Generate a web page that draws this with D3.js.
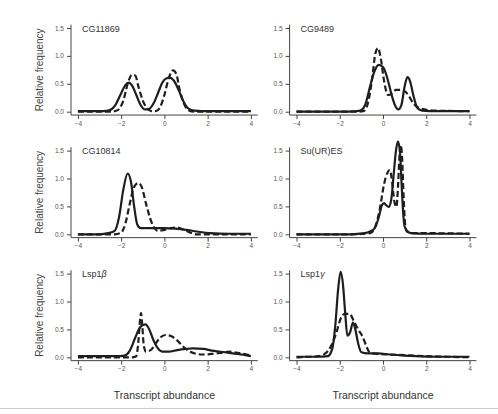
<!DOCTYPE html>
<html>
<head>
<meta charset="utf-8">
<script src="https://cdn.jsdelivr.net/npm/d3@7"></script>
<style>
  body { margin: 0; background: #fff; }
  svg { display: block; font-family: "Liberation Sans", Arial, sans-serif; }
</style>
</head>
<body>
<div class="chart"></div>
<script>
// panel names, in reading order
var genes = ["CG11869", "CG9489", "CG10814", "Su(UR)ES", "Lsp1\u03B2", "Lsp1\u03B3"];

var xTicks = [-4, -2, 0, 2, 4];
var yTicks = [0, 0.5, 1, 1.5];
var yTickLabels = ["0.0", "0.5", "1.0", "1.5"];

// solid curves [x, relative frequency]
var solidCG11869 = [[-4,0.01],[-3,0.01],[-2.6,0.02],[-2.3,0.1],[-2.0,0.33],[-1.8,0.48],[-1.65,0.52],[-1.5,0.47],[-1.3,0.3],[-1.1,0.12],[-0.9,0.04],[-0.7,0.05],[-0.5,0.15],[-0.3,0.33],[-0.1,0.52],[0.1,0.6],[0.25,0.61],[0.45,0.55],[0.7,0.35],[0.9,0.17],[1.1,0.06],[1.4,0.02],[2,0.01],[3,0.01],[4,0.01]];
var dashCG11869 = [[-4,0],[-2.5,0],[-2.2,0.02],[-1.9,0.2],[-1.7,0.5],[-1.5,0.66],[-1.35,0.65],[-1.2,0.45],[-1.0,0.2],[-0.8,0.06],[-0.6,0.01],[-0.4,0.01],[-0.2,0.08],[0,0.3],[0.2,0.6],[0.4,0.74],[0.55,0.68],[0.7,0.4],[0.9,0.15],[1.1,0.03],[1.4,0],[4,0]];

var solidCG9489 = [[-4,0],[-2,0],[-1.2,0.01],[-1.0,0.03],[-0.8,0.15],[-0.6,0.45],[-0.4,0.72],[-0.2,0.84],[0,0.8],[0.2,0.6],[0.4,0.3],[0.55,0.12],[0.7,0.04],[0.85,0.12],[1.0,0.45],[1.13,0.62],[1.25,0.55],[1.4,0.3],[1.6,0.06],[1.8,0.02],[2.5,0.01],[4,0.01]];
var dashCG9489 = [[-4,0],[-1.2,0],[-0.9,0.01],[-0.7,0.15],[-0.5,0.6],[-0.35,1.05],[-0.23,1.14],[-0.1,0.95],[0.05,0.55],[0.23,0.3],[0.4,0.32],[0.6,0.39],[0.85,0.39],[1.0,0.37],[1.2,0.28],[1.4,0.15],[1.6,0.08],[1.95,0.04],[2.3,0.02],[4,0.01]];

var solidCG10814 = [[-4,0],[-3,0],[-2.6,0.02],[-2.3,0.06],[-2.1,0.3],[-1.9,0.8],[-1.7,1.09],[-1.55,0.95],[-1.4,0.5],[-1.25,0.17],[-1.1,0.11],[-0.6,0.11],[0,0.11],[0.5,0.1],[1.0,0.08],[1.5,0.05],[2.1,0.02],[3,0.01],[4,0.01]];
var dashCG10814 = [[-4,0],[-2.3,0],[-2.0,0.03],[-1.8,0.2],[-1.6,0.55],[-1.4,0.85],[-1.2,0.92],[-1.05,0.85],[-0.85,0.55],[-0.6,0.22],[-0.3,0.06],[0,0.08],[0.3,0.11],[0.6,0.12],[0.9,0.08],[1.2,0.03],[1.5,0],[4,0]];

var solidSuURES = [[-4,0],[-1.5,0],[-0.85,0.02],[-0.6,0.05],[-0.38,0.11],[-0.2,0.3],[-0.05,0.52],[0.05,0.56],[0.15,0.52],[0.26,0.49],[0.38,0.62],[0.5,1.1],[0.6,1.5],[0.69,1.66],[0.78,1.5],[0.86,0.9],[0.93,0.4],[1.0,0.14],[1.15,0.05],[1.3,0.02],[2,0.01],[4,0.01]];
var dashSuURES = [[-4,0],[-1.5,0],[-0.8,0.01],[-0.55,0.03],[-0.35,0.15],[-0.15,0.45],[0.05,0.9],[0.2,1.1],[0.31,1.15],[0.42,0.95],[0.52,0.6],[0.62,0.49],[0.7,0.9],[0.77,1.45],[0.82,1.6],[0.88,1.4],[0.95,0.7],[1.02,0.2],[1.1,0.05],[1.4,0.02],[2,0.02],[4,0.01]];

var solidLsp1b = [[-4,0.02],[-3,0.02],[-2.2,0.02],[-1.85,0.03],[-1.6,0.12],[-1.35,0.35],[-1.1,0.55],[-0.88,0.59],[-0.7,0.5],[-0.5,0.3],[-0.3,0.16],[-0.08,0.1],[0.2,0.1],[0.6,0.13],[1.0,0.15],[1.31,0.16],[1.8,0.15],[2.2,0.12],[2.8,0.09],[3.4,0.06],[4,0.02]];
var dashLsp1b = [[-4,0],[-1.5,0],[-1.3,0.02],[-1.2,0.3],[-1.12,0.7],[-1.08,0.79],[-1.02,0.55],[-0.95,0.2],[-0.85,0.1],[-0.6,0.14],[-0.4,0.25],[-0.2,0.35],[0.05,0.4],[0.3,0.38],[0.6,0.3],[0.9,0.18],[1.2,0.1],[1.5,0.06],[1.77,0.05],[2.2,0.06],[2.6,0.08],[3.0,0.1],[3.4,0.08],[3.8,0.05],[4,0.03]];

var solidLsp1g = [[-4,0.01],[-3,0.01],[-2.55,0.02],[-2.35,0.15],[-2.2,0.6],[-2.08,1.2],[-1.96,1.53],[-1.85,1.3],[-1.75,0.8],[-1.65,0.39],[-1.52,0.45],[-1.39,0.62],[-1.28,0.5],[-1.15,0.25],[-1.0,0.09],[-0.7,0.07],[-0.23,0.07],[0.3,0.05],[1.0,0.03],[1.5,0.02],[2.5,0.01],[4,0.01]];
var dashLsp1g = [[-4,0],[-3.4,0.01],[-3.0,0.02],[-2.7,0.06],[-2.39,0.21],[-2.15,0.45],[-1.95,0.7],[-1.77,0.78],[-1.55,0.78],[-1.35,0.65],[-1.15,0.5],[-0.93,0.36],[-0.75,0.18],[-0.6,0.08],[-0.3,0.06],[0.3,0.05],[1.0,0.04],[2.0,0.02],[3.0,0.01],[4,0]];

var solidSeries = [solidCG11869, solidCG9489, solidCG10814, solidSuURES, solidLsp1b, solidLsp1g];
var dashSeries = [dashCG11869, dashCG9489, dashCG10814, dashSuURES, dashLsp1b, dashLsp1g];

var width = 498, height = 414;

var svg = d3.select(".chart")
    .append("svg")
    .attr("width", width)
    .attr("height", height);

// pixel layout of the 3x2 panels
var colLeft = [71, 289.6];
var plotW = 186.8;
var rowZero = [111.7, 234.3, 357.3];
var unitH = 55.8;

var ink = "#1e1e1e";
var axisCol = "#444";

genes.forEach(function(name, i) {
    var col = i % 2, row = Math.floor(i / 2);

    var x = d3.scaleLinear()
        .domain([-4.32, 4.32])
        .range([colLeft[col], colLeft[col] + plotW]);

    var y = d3.scaleLinear()
        .domain([-0.06, 1.56])
        .range([rowZero[row] + 0.06 * unitH, rowZero[row] - 1.56 * unitH]);

    var g = svg.append("g").attr("class", "panel");

    // L shaped frame
    g.append("path")
        .attr("d", "M" + x(-4.32) + "," + y(1.56) + "V" + y(-0.06) + "H" + x(4.32))
        .attr("fill", "none")
        .attr("stroke", axisCol)
        .attr("stroke-width", 1);

    var xAxis = d3.axisBottom(x).tickValues(xTicks).tickSize(4).tickPadding(2)
        .tickFormat(d3.format("d"));
    var yAxis = d3.axisLeft(y).tickValues(yTicks).tickSize(4).tickPadding(3)
        .tickFormat(function(d, k) { return yTickLabels[k]; });

    var xa = g.append("g")
        .attr("transform", "translate(0," + y(-0.06) + ")")
        .call(xAxis);
    var ya = g.append("g")
        .attr("transform", "translate(" + x(-4.32) + ",0)")
        .call(yAxis);

    [xa, ya].forEach(function(a) {
        a.select(".domain").remove();
        a.selectAll("line").attr("stroke", axisCol);
        a.selectAll("text")
            .attr("fill", "#555")
            .style("font-size", "6.5px")
            .style("font-family", "'Liberation Sans', Arial, sans-serif");
    });

    var line = d3.line()
        .x(function(d) { return x(d[0]); })
        .y(function(d) { return y(d[1]); })
        .curve(d3.curveMonotoneX);

    g.append("path")
        .datum(dashSeries[i])
        .attr("d", line)
        .attr("fill", "none")
        .attr("stroke", ink)
        .attr("stroke-width", 2.2)
        .attr("stroke-dasharray", "6,3");

    g.append("path")
        .datum(solidSeries[i])
        .attr("d", line)
        .attr("fill", "none")
        .attr("stroke", ink)
        .attr("stroke-width", 2.2);

    // gene name, greek letters in italic
    var t = g.append("text")
        .attr("x", x(-4.32) + 11)
        .attr("y", y(1.5) + 3.5)
        .attr("fill", "#333")
        .style("font-size", "9px");
    var m = name.match(/^(.*?)([\u03B1-\u03C9])$/);
    if (m) {
        t.append("tspan").text(m[1]);
        t.append("tspan").style("font-style", "italic").text(m[2]);
    } else {
        t.text(name);
    }

    if (col == 0) {
        svg.append("text")
            .attr("transform", "translate(39," + ((y(1.56) + y(-0.06)) / 2) + ") rotate(-90)")
            .attr("text-anchor", "middle")
            .attr("dy", "0.35em")
            .attr("fill", "#444")
            .style("font-size", "10px")
            .text("Relative frequency");
    }
    if (row == 2) {
        svg.append("text")
            .attr("x", x(0))
            .attr("y", 399)
            .attr("text-anchor", "middle")
            .attr("fill", "#333")
            .style("font-size", "10.5px")
            .text("Transcript abundance");
    }
});

// thin rule under the figure
svg.append("line")
    .attr("x1", 0).attr("x2", width)
    .attr("y1", 408.5).attr("y2", 408.5)
    .attr("stroke", "#ccc")
    .attr("stroke-width", 1);
</script>
</body>
</html>
